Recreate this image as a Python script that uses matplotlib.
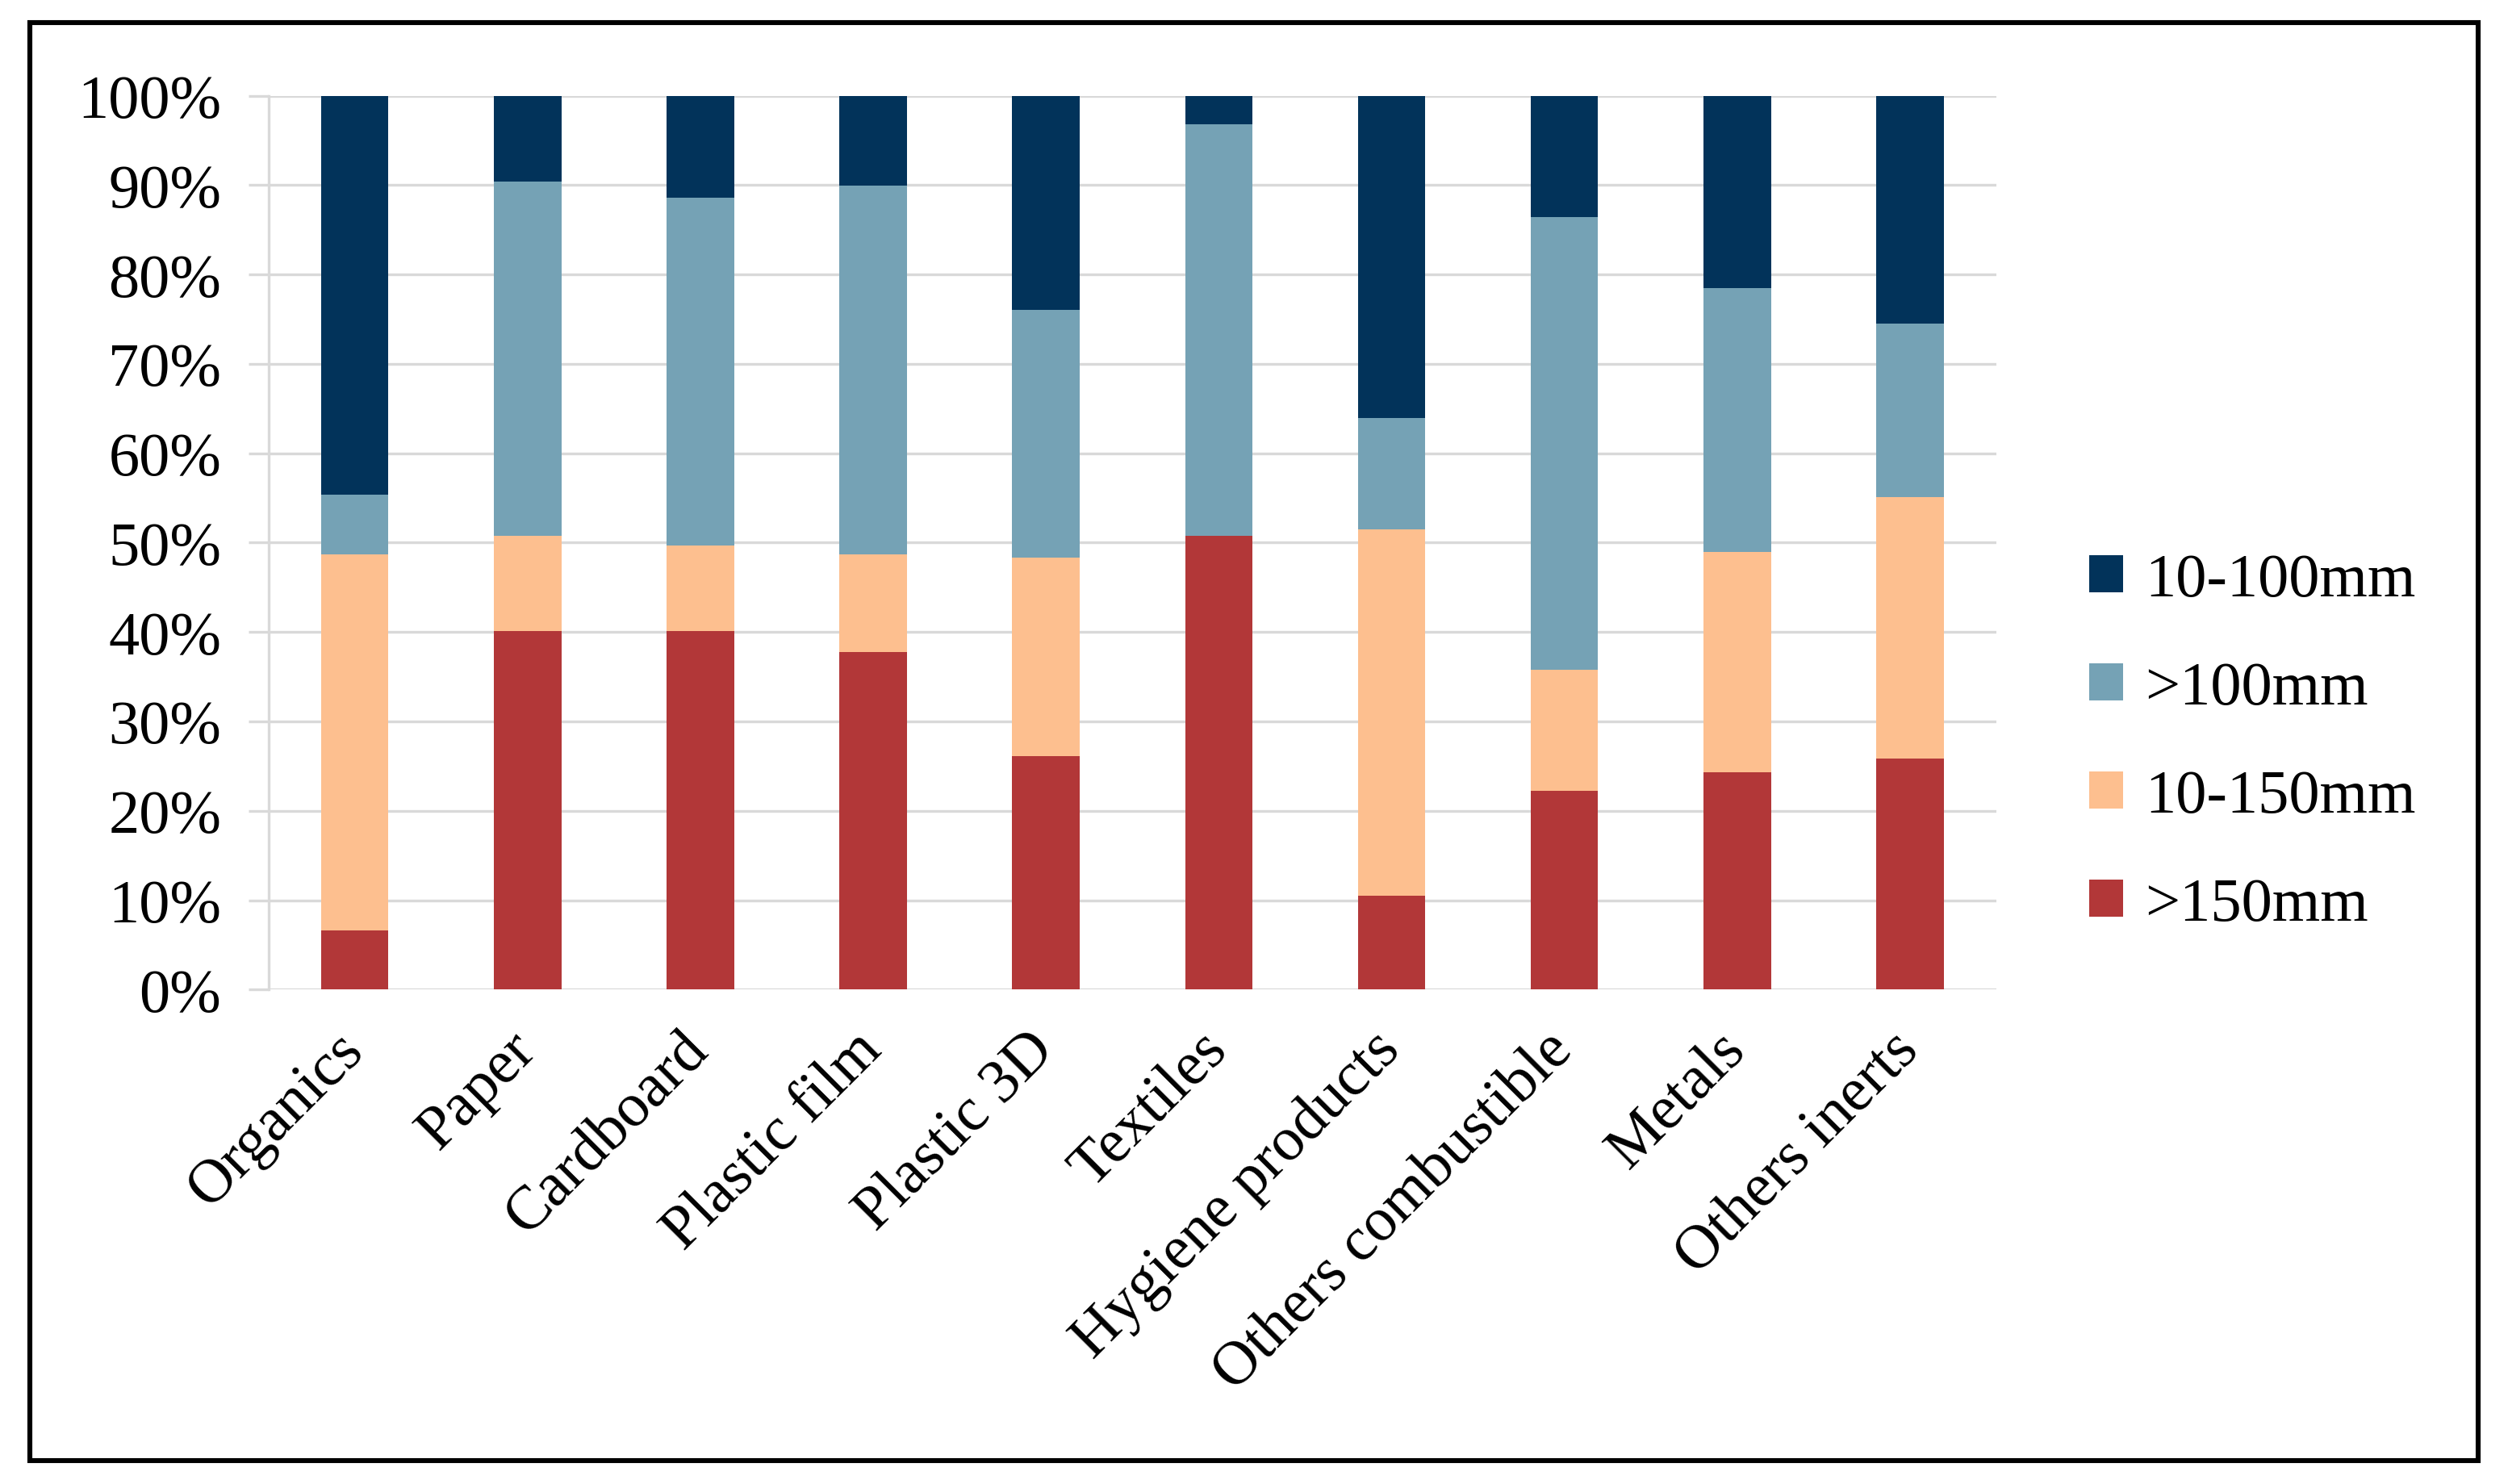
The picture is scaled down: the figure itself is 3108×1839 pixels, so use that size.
import matplotlib
matplotlib.use("Agg")
import matplotlib.pyplot as plt
import matplotlib.transforms as mtransforms
from matplotlib.patches import Rectangle
import numpy as np

categories = ["Organics", "Paper", "Cardboard", "Plastic film", "Plastic 3D",
              "Textiles", "Hygiene products", "Others combustible", "Metals", "Others inerts"]

# cumulative tops (%), bottom to top
top_gt150 = [6.6, 40.1, 40.1, 37.8, 26.1, 50.8, 10.5, 22.2, 24.3, 25.8]
top_10_150 = [48.7, 50.8, 49.7, 48.7, 48.3, 50.8, 51.5, 35.8, 49.0, 55.1]
top_gt100 = [55.4, 90.4, 88.6, 89.9, 76.0, 96.8, 63.9, 86.4, 78.5, 74.5]

gt150 = np.array(top_gt150)
mm10_150 = np.array(top_10_150) - gt150
gt100 = np.array(top_gt100) - np.array(top_10_150)
mm10_100 = 100 - np.array(top_gt100)

series = [(">150mm", gt150, "#B23738"),
          ("10-150mm", mm10_150, "#FDBF8F"),
          (">100mm", gt100, "#75A2B5"),
          ("10-100mm", mm10_100, "#02335A")]

plt.rcParams['font.family'] = ['Liberation Serif', 'DejaVu Serif']
fs = 27.5

fig = plt.figure(figsize=(15.54, 9.2), dpi=200)
ax = fig.add_axes([0.107, 0.333, 0.689, 0.602])

x = np.arange(len(categories))
bottom = np.zeros(len(categories))
handles = []
for name, vals, color in series:
    h = ax.bar(x, vals, bottom=bottom, width=0.39, color=color, label=name, zorder=3)
    handles.append(h)
    bottom += vals

ax.set_xlim(-0.5, len(categories) - 0.5)
ax.set_ylim(0, 100)
ax.set_yticks(np.arange(0, 101, 10))
ax.set_yticklabels([f"{v}%" for v in range(0, 101, 10)], fontsize=fs)
ax.set_xticks(x)
ax.set_xticklabels(categories, rotation=45, ha='right', rotation_mode='anchor', fontsize=fs)
ax.tick_params(axis='x', length=0, pad=10)
ax.tick_params(axis='y', length=9, color='#D9D9D9', width=1.2, pad=12)

# nudge the rotated labels a bit left/down like the original
shift = mtransforms.ScaledTranslation(-9 / 72, -4 / 72, fig.dpi_scale_trans)
for lbl in ax.get_xticklabels():
    lbl.set_transform(lbl.get_transform() + shift)

ax.yaxis.grid(True, color='#D9D9D9', linewidth=1.2, zorder=0)
for side in ['top', 'right', 'bottom']:
    ax.spines[side].set_visible(False)
ax.spines['left'].set_color('#D9D9D9')
ax.spines['left'].set_linewidth(1.2)

leg = fig.legend(handles[::-1], [s[0] for s in series][::-1],
                 loc='center left', bbox_to_anchor=(0.811, 0.499),
                 frameon=False, fontsize=fs, handlelength=0.55, handleheight=0.55,
                 handletextpad=0.35, labelspacing=0.85)

fig.patches.append(Rectangle((0.012, 0.016), 0.976, 0.968, transform=fig.transFigure,
                             fill=False, edgecolor='black', linewidth=2.2))

fig.savefig("out.png", dpi=200, facecolor='white')
